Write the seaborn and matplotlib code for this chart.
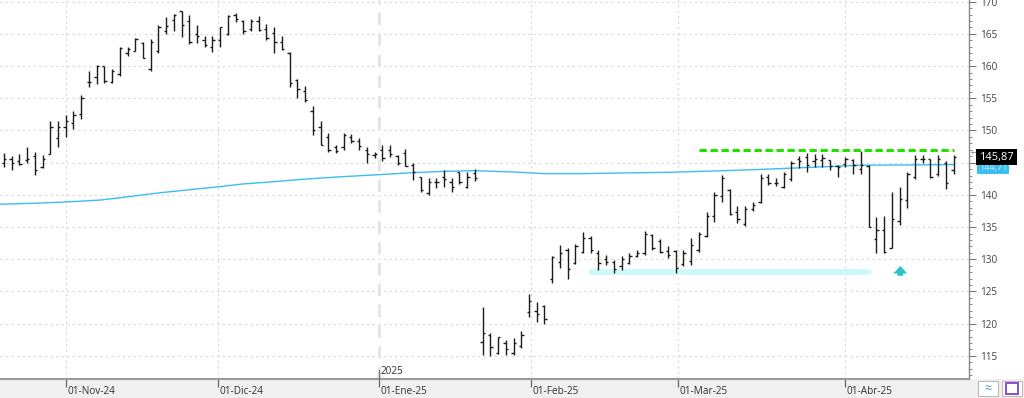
import numpy as np
import pandas as pd
import matplotlib
matplotlib.use("Agg")
import matplotlib.pyplot as plt
import matplotlib.transforms as mtransforms
from matplotlib.patches import Rectangle
import seaborn as sns

# Daily OHLC bars (one per trading session, in order)
opens = [145.0, 145.5, 145.3, 145.4, 146.0, 144.3, 146.4, 148.8, 150.6, 151.2,
         152.5, 157.6, 158.3, 160.0, 157.6, 158.8, 162.0, 162.4, 163.6, 159.5,
         162.3, 165.5, 167.1, 168.5, 167.0, 165.0, 164.1, 162.9, 164.0, 165.0,
         168.0, 167.0, 165.7, 167.0, 165.7, 165.2, 163.8, 162.1, 157.8, 156.2,
         153.0, 150.5, 149.0, 147.4, 147.5, 149.0, 148.3, 146.9, 146.2, 147.0,
         146.9, 146.0, 146.5, 144.7, 142.7, 140.3, 142.0, 142.8, 142.0, 143.5,
         141.3, 143.4, 117.2, 118.3, 115.4, 117.0, 115.5, 116.6, 121.8, 122.0,
         122.8, 126.9, 129.6, 131.4, 129.4, 131.2, 133.3, 131.0, 130.0, 129.6,
         128.9, 129.4, 130.5, 130.9, 133.8, 132.9, 131.3, 131.3, 129.3, 129.8,
         131.4, 133.6, 136.7, 139.8, 140.8, 137.4, 135.5, 137.8, 138.9, 142.7,
         141.9, 141.2, 142.4, 145.5, 145.9, 145.2, 145.4, 145.4, 144.5, 144.8,
         145.4, 144.0, 144.5, 133.1, 134.5, 131.7, 135.9, 139.2, 142.7, 145.6,
         145.5, 143.2, 145.0, 143.9]
highs = [146.5, 146.0, 146.4, 147.5, 146.7, 146.2, 151.4, 151.5, 152.4, 153.0,
         155.5, 159.3, 160.2, 160.0, 159.6, 163.0, 162.9, 164.4, 163.7, 164.2,
         166.4, 167.6, 168.1, 168.6, 167.9, 166.4, 164.7, 164.7, 166.1, 167.9,
         168.2, 167.2, 167.3, 167.8, 166.6, 166.1, 164.6, 162.2, 158.0, 156.9,
         153.8, 151.4, 149.6, 147.7, 149.6, 149.5, 148.8, 147.5, 146.7, 147.7,
         147.7, 146.2, 147.2, 144.9, 142.8, 142.6, 142.6, 143.9, 142.6, 143.6,
         143.5, 144.0, 122.6, 118.5, 118.0, 117.4, 117.7, 118.8, 124.6, 123.3,
         122.9, 130.5, 132.2, 131.7, 132.3, 134.3, 133.6, 131.4, 130.7, 129.9,
         130.5, 131.0, 131.4, 134.4, 133.9, 133.2, 132.0, 131.5, 131.4, 133.3,
         134.3, 137.4, 140.5, 143.1, 140.9, 138.2, 138.2, 138.9, 143.3, 143.3,
         142.6, 143.6, 145.2, 146.0, 146.5, 146.3, 146.3, 145.4, 144.6, 145.9,
         145.5, 146.8, 144.6, 136.6, 136.7, 140.5, 141.2, 143.5, 146.2, 146.2,
         145.5, 146.2, 145.2, 146.2]
lows = [144.4, 143.9, 144.6, 144.9, 143.1, 144.1, 146.3, 147.5, 149.0, 150.3,
        151.8, 156.7, 157.2, 157.3, 157.4, 158.4, 161.5, 162.4, 161.2, 159.3,
        162.0, 165.0, 165.5, 164.5, 163.5, 163.6, 162.9, 162.2, 163.0, 164.8,
        166.9, 165.0, 165.4, 165.4, 164.1, 162.1, 162.5, 156.7, 155.1, 154.4,
        149.3, 147.7, 146.7, 146.5, 147.0, 148.0, 147.0, 145.0, 145.7, 145.3,
        145.9, 144.6, 144.5, 142.3, 140.5, 140.0, 141.0, 141.3, 140.5, 141.7,
        141.0, 142.2, 115.2, 115.0, 115.3, 115.1, 115.1, 116.2, 121.0, 120.3,
        120.0, 126.3, 128.6, 127.0, 129.2, 130.9, 130.9, 128.3, 129.1, 127.9,
        128.3, 129.3, 130.3, 130.7, 131.4, 130.9, 130.2, 127.8, 128.9, 129.1,
        131.2, 133.5, 135.8, 138.9, 136.9, 135.6, 135.1, 137.5, 138.7, 141.5,
        141.4, 141.0, 142.1, 144.1, 143.6, 144.4, 144.4, 143.9, 142.8, 144.4,
        143.2, 143.2, 135.0, 131.0, 131.0, 131.7, 135.3, 137.9, 142.4, 144.9,
        142.6, 142.9, 140.9, 143.3]
closes = [145.6, 144.9, 144.8, 145.6, 143.8, 145.6, 150.5, 150.6, 151.4, 152.4,
          155.0, 157.6, 160.0, 157.7, 159.2, 162.8, 162.6, 164.2, 161.3, 163.8,
          166.0, 166.2, 168.0, 166.4, 163.8, 164.7, 163.2, 164.0, 166.0, 167.7,
          167.3, 165.4, 167.0, 165.6, 164.4, 163.8, 162.6, 157.3, 156.4, 154.7,
          150.0, 147.8, 146.9, 146.8, 149.3, 148.4, 147.6, 146.3, 146.3, 145.8,
          146.3, 145.0, 144.5, 143.5, 140.8, 142.0, 142.0, 142.5, 141.3, 142.0,
          142.8, 142.6, 118.5, 116.4, 117.9, 116.0, 117.0, 118.3, 123.5, 121.5,
          120.8, 130.3, 131.0, 128.5, 132.0, 133.3, 131.5, 129.4, 129.5, 128.5,
          130.0, 130.5, 131.0, 134.0, 131.8, 131.1, 130.6, 128.6, 131.0, 132.2,
          134.0, 136.7, 140.0, 142.6, 137.0, 136.3, 137.8, 138.5, 142.6, 141.9,
          141.8, 143.2, 145.0, 145.3, 144.7, 145.6, 145.8, 144.5, 144.4, 145.6,
          144.7, 144.7, 135.0, 134.6, 131.2, 136.3, 139.4, 143.2, 145.6, 145.5,
          142.8, 145.5, 141.8, 145.87]

# Long moving average, read at a few sessions
ma_idx = [-0.5, 4, 8, 12.5, 16, 20, 24, 27.7, 31, 35, 39, 43.5, 48, 53, 57, 61,
          66, 70, 75, 80, 86, 93, 98, 102, 107, 111, 117, 123]
ma_val = [138.55, 138.7, 138.9, 139.2, 139.7, 140.3, 140.8, 141.25, 141.7, 142.05,
          142.45, 142.8, 143.1, 143.45, 143.65, 143.76, 143.55, 143.3, 143.3, 143.4,
          143.5, 143.75, 143.95, 144.15, 144.4, 144.6, 144.65, 144.7]

# Month ticks (session positions) and labels
month_pos = [8, 27.7, 48.6, 68.3, 87.3, 109]
month_labels = ["01-Nov-24", "01-Dic-24", "01-Ene-25", "01-Feb-25", "01-Mar-25", "01-Abr-25"]
year_pos = 48.6

# Drawn levels
resist_level = 147.0
resist_span = [90, 123]
support_level = 128.0
support_span = [76.2, 112]
arrow_pos = 116.1
last_price = 145.87
last_ma = 144.71

df = pd.DataFrame({"open": opens, "high": highs, "low": lows, "close": closes})
df["i"] = np.arange(len(df))

sns.set_theme(style="white")
plt.rcParams["font.family"] = ["Open Sans", "DejaVu Sans"]

W, H = 1024, 398
fig = plt.figure(figsize=(W / 100, H / 100), dpi=100)
fig.patch.set_facecolor("white")
# grey strip under the chart
fig.patches.append(Rectangle((0, 0), 1, 19 / H, transform=fig.transFigure,
                             facecolor="#f0f0f0", edgecolor="none", zorder=-5))

ax = fig.add_axes([0, 19 / H, 969 / W, 379 / H])
ax.set_facecolor("white")
ax.set_xlim(-0.52, 125.0)
ax.set_ylim(111.41, 170.26)

# grid
for v in range(115, 171, 5):
    ax.axhline(v, color="#d8d8d8", lw=0.8, ls=(0, (2, 3)), zorder=1)
for p in month_pos:
    if p == year_pos:
        ax.axvline(p, color="#e4e4e4", lw=2, ls=(0, (4.5, 3)), zorder=1)
    else:
        ax.axvline(p, color="#d8d8d8", lw=0.8, ls=(0, (2, 3)), zorder=1)

# support highlight
ax.plot(support_span, [support_level, support_level], color="#cdf9fb", lw=4.2,
        solid_capstyle="round", zorder=2)

# moving average
sns.lineplot(x=ma_idx, y=ma_val, ax=ax, color="#3bbfef", lw=1.0, zorder=3)

# OHLC bars
bc = "#1c1c1c"
ax.vlines(df["i"], df["low"], df["high"], color=bc, lw=1.0, zorder=4)
ax.hlines(df["open"], df["i"] - 0.3, df["i"], color=bc, lw=1.0, zorder=4)
ax.hlines(df["close"], df["i"], df["i"] + 0.3, color=bc, lw=1.0, zorder=4)

# resistance line
ax.plot(resist_span, [resist_level, resist_level], color="#22e000", lw=2.2,
        ls=(0, (2.4, 1.2)), zorder=5)

# arrow
ax.annotate("", xy=(arrow_pos, 129.4), xytext=(arrow_pos, 127.0),
            arrowprops=dict(arrowstyle="simple,head_length=0.55,head_width=1.0,tail_width=0.4",
                            color="#2bc3c7", lw=0, mutation_scale=10), zorder=5)

# axes styling
for s in ["top", "left"]:
    ax.spines[s].set_visible(False)
ax.spines["right"].set_color("#888888")
ax.spines["right"].set_linewidth(1.0)
ax.spines["bottom"].set_color("#9a9a9a")
ax.spines["bottom"].set_linewidth(1.5)

ax.yaxis.tick_right()
ax.set_yticks(range(115, 171, 5))
ax.set_yticklabels([str(v) for v in range(115, 171, 5)])
ax.set_yticks(range(112, 171), minor=True)
ax.tick_params(axis="y", which="major", direction="out", length=5, width=0.8,
               color="#777777", labelsize=7.2, labelcolor="#444444", pad=3, right=True)
ax.tick_params(axis="y", which="minor", direction="out", length=2.5, width=0.7,
               color="#888888", right=True)

ax.set_xticks(month_pos)
ax.set_xticklabels(month_labels, ha="left")
ax.tick_params(axis="x", direction="out", length=6, width=0.9, color="#666666",
               labelsize=7.2, labelcolor="#333333", pad=-1, bottom=True)
ax.set_xlabel("")
ax.set_ylabel("")
offset = mtransforms.ScaledTranslation(1.5 / 100, 0, fig.dpi_scale_trans)
for lab in ax.get_xticklabels():
    lab.set_transform(lab.get_transform() + offset)

# year marker with its tick reaching above the axis
bt = mtransforms.blended_transform_factory(ax.transData, ax.transAxes)
ax.plot([year_pos, year_pos], [0, 0.025], transform=bt, color="#777777", lw=0.9,
        clip_on=False, zorder=6)
ax.text(year_pos + 0.2, 0.02, "2025", transform=bt,
        fontsize=7.2, color="#333333", ha="left", va="center")

# right-side value tags
tr = mtransforms.blended_transform_factory(ax.transAxes, ax.transData)
ax.text(1.0105, last_ma - 0.45, f"{last_ma:.2f}".replace(".", ","), transform=tr, fontsize=6.5,
        color="#cfefff", ha="left", va="center", clip_on=False, zorder=6,
        bbox=dict(boxstyle="square,pad=0.2", fc="#3bbfef", ec="none"))
ax.text(1.0105, last_price, f"{last_price:.2f}".replace(".", ","), transform=tr, fontsize=8,
        color="white", ha="left", va="center", clip_on=False, zorder=7,
        bbox=dict(boxstyle="square,pad=0.25", fc="black", ec="none"))
ax.text(1.002, last_price + 0.4, "\u2190", transform=tr, fontsize=5, color="#777777",
        ha="left", va="center", clip_on=False, zorder=6)

# small buttons bottom right
fig.patches.append(Rectangle((978 / W, 2 / H), 20 / W, 15 / H, transform=fig.transFigure,
                             facecolor="white", edgecolor="#bbbbbb", lw=0.8, zorder=1))
fig.patches.append(Rectangle((1002 / W, 2 / H), 20 / W, 15 / H, transform=fig.transFigure,
                             facecolor="white", edgecolor="#bbbbbb", lw=0.8, zorder=1))
fig.patches.append(Rectangle((1006 / W, 4 / H), 12 / W, 11 / H, transform=fig.transFigure,
                             facecolor="none", edgecolor="#8a4fd0", lw=1.4, zorder=2))
fig.text(988 / W, 9.5 / H, "\u2248", fontsize=9, color="#4a8fd8", ha="center", va="center")

fig.savefig("out.png", dpi=100, facecolor="white")
